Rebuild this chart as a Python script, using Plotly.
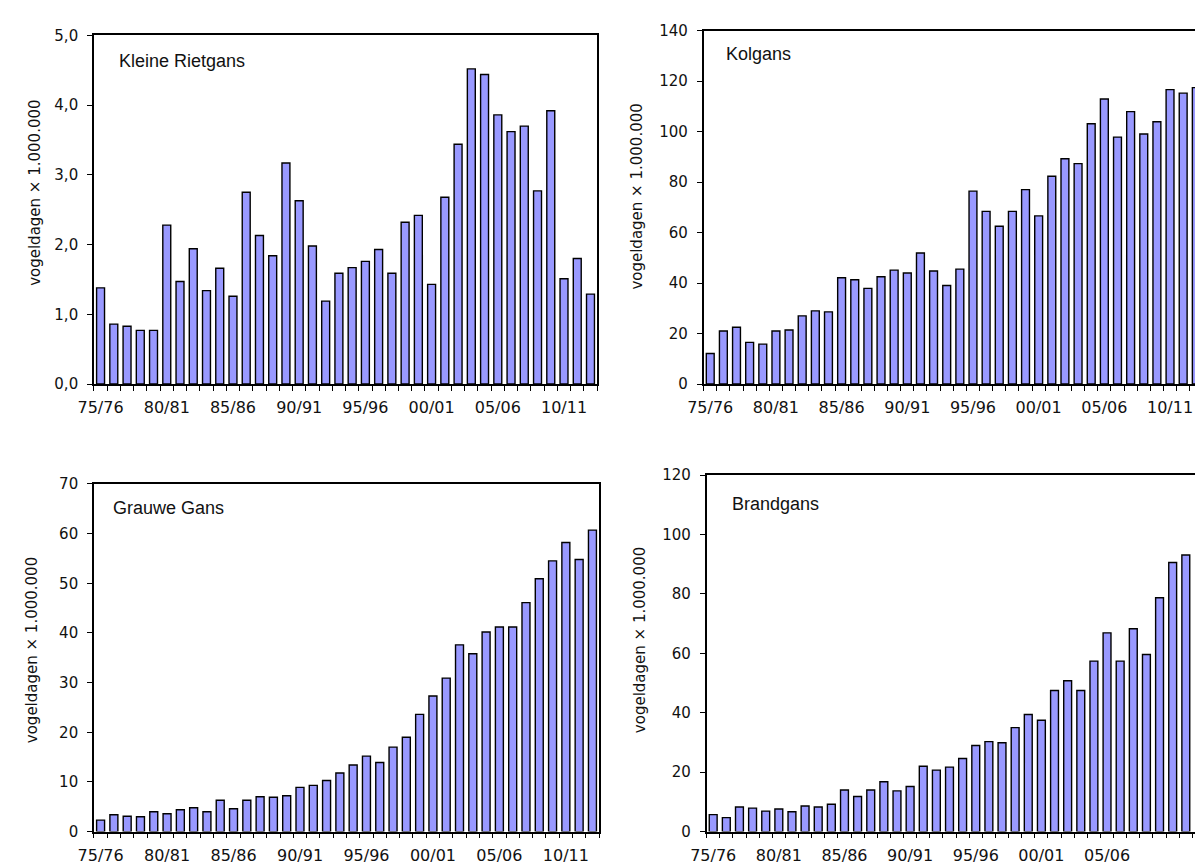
import plotly.graph_objects as go

# seizoenen 1975/76 t/m 2012/13
seasons = ["75/76", "76/77", "77/78", "78/79", "79/80", "80/81", "81/82", "82/83",
           "83/84", "84/85", "85/86", "86/87", "87/88", "88/89", "89/90", "90/91",
           "91/92", "92/93", "93/94", "94/95", "95/96", "96/97", "97/98", "98/99",
           "99/00", "00/01", "01/02", "02/03", "03/04", "04/05", "05/06", "06/07",
           "07/08", "08/09", "09/10", "10/11", "11/12", "12/13"]
tick_labels = ["75/76", "80/81", "85/86", "90/91", "95/96", "00/01", "05/06", "10/11"]

# vogeldagen x 1.000.000
kleine_rietgans = [1.38, 0.86, 0.83, 0.77, 0.77, 2.28, 1.47, 1.94, 1.34, 1.66,
                   1.26, 2.75, 2.13, 1.84, 3.17, 2.63, 1.98, 1.19, 1.59, 1.67,
                   1.76, 1.93, 1.59, 2.32, 2.42, 1.43, 2.68, 3.44, 4.52, 4.44,
                   3.86, 3.62, 3.70, 2.77, 3.92, 1.51, 1.80, 1.29]
kolgans = [12.1, 21.0, 22.5, 16.5, 15.8, 21.0, 21.4, 27.0, 29.0, 28.6,
           42.1, 41.3, 37.9, 42.5, 45.1, 44.0, 51.9, 44.8, 39.0, 45.5,
           76.4, 68.4, 62.5, 68.4, 77.0, 66.6, 82.3, 89.2, 87.3, 103.1,
           112.9, 97.8, 107.9, 99.0, 103.9, 116.6, 115.2, 117.4]
grauwe_gans = [2.3, 3.4, 3.1, 3.0, 4.0, 3.6, 4.4, 4.8, 4.0, 6.3,
               4.6, 6.3, 7.0, 6.9, 7.2, 8.9, 9.3, 10.3, 11.8, 13.4,
               15.2, 13.9, 17.0, 19.0, 23.6, 27.3, 30.9, 37.6, 35.8, 40.2,
               41.2, 41.2, 46.1, 50.9, 54.5, 58.2, 54.8, 60.7]
brandgans = [5.7, 4.7, 8.3, 7.9, 6.9, 7.6, 6.7, 8.6, 8.3, 9.2,
             14.0, 11.8, 14.0, 16.8, 13.7, 15.2, 22.0, 20.7, 21.7, 24.6,
             29.0, 30.3, 29.9, 35.0, 39.4, 37.5, 47.5, 50.8, 47.5, 57.4,
             66.9, 57.4, 68.3, 59.6, 78.7, 90.6, 93.1]

W, H = 1195, 868
ytitle = "vogeldagen \u00d7 1.000.000"

# name, values, y max, y step, tick format, x domain (px), y domain (px), x end, title pos, ytitle pos
panels = [
    ("Kleine Rietgans", kleine_rietgans, 5, 1, ".1f", (79, 589), (27, 383), 37.5, (102, 53), (19, 188)),
    ("Kolgans", kolgans, 140, 20, "d", (697, 1195), (22, 383), 36.9, (718, 46), (629, 192)),
    ("Grauwe Gans", grauwe_gans, 70, 10, "d", (79, 591), (485, 840), 37.5, (96, 510), (17, 655)),
    ("Brandgans", brandgans, 120, 20, "d", (700, 1195), (476, 840), 36.7, (724, 505), (632, 645)),
]

fig = go.Figure()
annotations = []
for i, (name, vals, ymax, ystep, fmt, xd, yd, xend, tpos, ypos) in enumerate(panels):
    n = "" if i == 0 else str(i + 1)
    left = xd[1] < W
    fig.add_trace(go.Bar(
        x=list(range(len(vals))), y=vals, name=name,
        xaxis="x" + n, yaxis="y" + n,
        marker=dict(color="#9999FF", line=dict(color="black", width=1.4)),
        showlegend=False,
    ))
    fig.layout["xaxis" + n] = dict(
        domain=[xd[0] / W, xd[1] / W], anchor="y" + n,
        range=[-0.5, xend],
        tickvals=[seasons.index(t) for t in tick_labels], ticktext=tick_labels,
        ticks="", ticklabelstandoff=8,
        minor=dict(tickvals=[k - 0.5 for k in range(len(seasons) + 1)],
                   ticks="outside", ticklen=5, tickcolor="black", tickwidth=1),
        showline=True, linecolor="black", linewidth=1.5, mirror=True,
        showgrid=False, zeroline=False,
        tickfont=dict(family="DejaVu Sans", size=16, color="#111"),
    )
    fig.layout["yaxis" + n] = dict(
        domain=[1 - yd[1] / H, 1 - yd[0] / H], anchor="x" + n,
        range=[0, ymax], dtick=ystep, tickformat=fmt,
        ticks="outside", ticklen=5, tickcolor="black", tickwidth=1,
        ticklabelstandoff=6,
        showline=True, linecolor="black", linewidth=1.5, mirror=left,
        showgrid=False, zeroline=False,
        tickfont=dict(family="DejaVu Sans", size=15, color="#111"),
    )
    annotations.append(dict(
        text=name, x=tpos[0] / W, y=1 - tpos[1] / H, xref="paper", yref="paper",
        xanchor="left", yanchor="middle", showarrow=False,
        font=dict(family="Liberation Sans", size=18, color="#111"),
    ))
    annotations.append(dict(
        text=ytitle, x=ypos[0] / W, y=1 - ypos[1] / H,
        xref="paper", yref="paper", textangle=-90,
        xanchor="center", yanchor="middle", showarrow=False,
        font=dict(family="DejaVu Sans", size=15, color="#111"),
    ))

fig.update_layout(
    width=W, height=H,
    margin=dict(l=0, r=0, t=0, b=0),
    paper_bgcolor="white", plot_bgcolor="white",
    bargap=0.4, separators=",.",
    annotations=annotations,
)

fig.write_html("out.html", config={"displayModeBar": False},
               post_script="document.body.style.margin='0';")
